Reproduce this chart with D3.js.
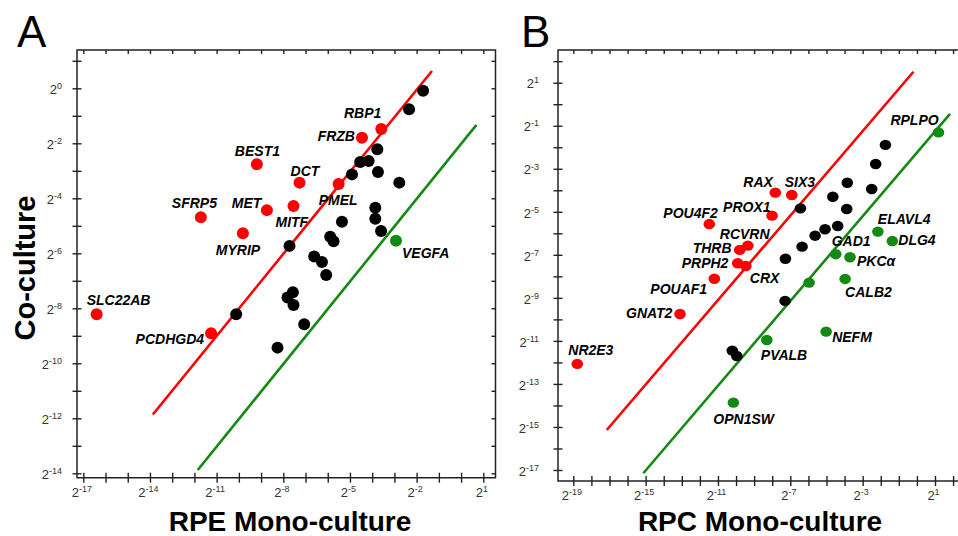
<!DOCTYPE html>
<html>
<head>
<meta charset="utf-8">
<script src="https://cdn.jsdelivr.net/npm/d3@7"></script>
<style>
  body { margin: 0; background: #fff; }
  svg { display: block; font-family: Arial, "Liberation Sans", sans-serif; }
  .tick text { fill: #333; font-size: 13px; }
  .gene { font-size: 14px; font-weight: bold; font-style: italic; fill: #000; }
</style>
</head>
<body>
<svg id="chart" width="958" height="536"></svg>
<script>
// values are log2 expression: [gene, mono-culture, co-culture]
const rpeUp = [
  ['RBP1', -3.59, -1.48], ['FRZB', -4.46, -1.80], ['BEST1', -9.19, -2.76],
  ['DCT', -7.27, -3.43], ['PMEL', -5.51, -3.48], ['SFRP5', -11.71, -4.69],
  ['MET', -8.74, -4.43], ['MITF', -7.54, -4.28], ['MYRIP', -9.82, -5.27],
  ['SLC22AB', -16.40, -8.22], ['PCDHGD4', -11.25, -8.91]
];
const rpeDown = [['VEGFA', -2.93, -5.54]];
const rpeOther = [
  [-1.71, -0.09], [-2.34, -0.76], [-3.77, -2.22], [-4.54, -2.68], [-4.16, -2.64],
  [-4.91, -3.13], [-3.74, -3.04], [-2.78, -3.43], [-3.86, -4.34], [-3.86, -4.74],
  [-3.60, -5.19], [-5.36, -4.85], [-5.89, -5.40], [-5.74, -5.56], [-7.72, -5.73],
  [-6.61, -6.12], [-6.26, -6.32], [-6.07, -6.79], [-7.57, -7.42], [-7.81, -7.61],
  [-7.54, -7.88], [-10.12, -8.22], [-7.06, -8.58], [-8.26, -9.43]
];
const rpeUpLine = [[-13.87, -11.86], [-1.31, 0.63]];
const rpeDownLine = [[-11.85, -13.88], [0.69, -1.33]];

const rpcUp = [
  ['RAX', -7.83, -4.11], ['SIX3', -6.92, -4.22], ['PROX1', -8.01, -5.18],
  ['POU4F2', -11.48, -5.57], ['RCVRN', -9.35, -6.57], ['THRB', -9.80, -6.77],
  ['PRPH2', -9.91, -7.39], ['CRX', -9.46, -7.52], ['POUAF1', -11.20, -8.11],
  ['GNAT2', -13.10, -9.75], ['NR2E3', -18.78, -12.07]
];
const rpcDown = [
  ['RPLPO', 1.19, -1.31], ['ELAVL4', -2.16, -5.92], ['DLG4', -1.36, -6.36],
  ['GAD1', -4.49, -6.97], ['PKCα', -3.70, -7.11], ['CALB2', -3.97, -8.12],
  ['', -5.96, -8.29], ['NEFM', -5.02, -10.57], ['PVALB', -8.30, -10.96],
  ['OPN1SW', -10.15, -13.87]
];
const rpcOther = [
  [-1.74, -1.89], [-2.28, -2.78], [-3.85, -3.65], [-2.50, -3.94], [-4.65, -4.30],
  [-6.44, -4.84], [-3.88, -4.87], [-4.38, -5.66], [-5.08, -5.81], [-5.63, -6.11],
  [-6.35, -6.62], [-7.27, -7.18], [-7.29, -9.14], [-10.21, -11.45], [-9.96, -11.70]
];
const rpcUpLine = [[-17.15, -15.14], [-0.19, 1.51]];
const rpcDownLine = [[-15.13, -17.15], [1.83, -0.45]];

// labelled exponents on each axis
const rpeXLabels = [-17, -14, -11, -8, -5, -2, 1];
const rpeYLabels = [0, -2, -4, -6, -8, -10, -12, -14];
const rpcXLabels = [-19, -15, -11, -7, -3, 1];
const rpcYLabels = [1, -1, -3, -5, -7, -9, -11, -13, -15, -17];

// label placement: [anchor, dx, dy] from the dot centre
const labelPos = {
  RBP1: ['end', 0, -11], FRZB: ['end', -7, 3], BEST1: ['start', -22, -8],
  DCT: ['start', -9, -7], PMEL: ['start', -20, 21], SFRP5: ['start', -29, -9],
  MET: ['start', -35, -2], MITF: ['start', -18, 21], MYRIP: ['start', -27, 22],
  VEGFA: ['start', 6, 17], SLC22AB: ['start', -10, -9], PCDHGD4: ['end', -7, 11],
  RAX: ['start', -32, -6], SIX3: ['start', -7, -8], PROX1: ['start', -49, -4],
  POU4F2: ['start', -46, -6], RCVRN: ['start', -28, -7], THRB: ['start', -47, 3],
  PRPH2: ['start', -56, 5], CRX: ['start', 4, 17], POUAF1: ['start', -64, 15],
  GNAT2: ['start', -54, 4], NR2E3: ['start', -9, -9], RPLPO: ['start', -48, -7],
  ELAVL4: ['start', 0, -8], DLG4: ['start', 6, 4], GAD1: ['start', -4, -8],
  'PKCα': ['start', 7, 9], CALB2: ['start', 0, 18], NEFM: ['start', 6, 10],
  PVALB: ['start', -6, 20], OPN1SW: ['start', -20, 21]
};

const RED = '#ff0000';
const GREEN = '#138a13';

const svg = d3.select('#chart');
svg.append('rect').attr('width', 958).attr('height', 536).attr('fill', '#fff');

const supLabels = (g) => {
  g.selectAll('.tick text').each(function () {
    const t = d3.select(this);
    const s = t.text();
    t.text(null);
    if (!s) return;
    t.append('tspan').text('2');
    t.append('tspan').attr('dy', '-0.55em').attr('font-size', '9px').text(s);
  });
};

const drawPanel = (p) => {
  const x = d3.scaleLinear().domain(p.xDom).range(p.xRange);
  const y = d3.scaleLinear().domain(p.yDom).range(p.yRange);
  const f = p.frame; // [left, top, right, bottom]
  const g = svg.append('g');

  const xTicks = d3.range(Math.ceil(x.invert(f[0])), Math.floor(x.invert(f[2])) + 1);
  const yTicks = d3.range(Math.ceil(y.invert(f[3])), Math.floor(y.invert(f[1])) + 1);

  // top & right inner ticks
  g.append('g')
      .attr('transform', `translate(0,${f[1]})`)
      .call(d3.axisTop(x).tickValues(xTicks).tickSize(-4).tickFormat(() => ''))
      .call(a => a.select('.domain').remove());
  if (f[2] < 958) {
    g.append('g')
        .attr('transform', `translate(${f[2]},0)`)
        .call(d3.axisRight(y).tickValues(yTicks).tickSize(-4).tickFormat(() => ''))
        .call(a => a.select('.domain').remove());
  }

  g.append('g')
      .attr('transform', `translate(0,${f[3]})`)
      .call(d3.axisBottom(x).tickValues(xTicks).tickSize(5)
        .tickFormat(d => (p.xLabels.includes(d) ? `${d}` : '')))
      .call(a => a.select('.domain').remove())
      .call(a => a.selectAll('.tick line').attr('y1', -5))
      .call(a => a.selectAll('.tick text').attr('y', 19).attr('dy', 0).attr('dx', -2))
      .call(supLabels);

  g.append('g')
      .attr('transform', `translate(${f[0]},0)`)
      .call(d3.axisLeft(y).tickValues(yTicks).tickSize(4.5)
        .tickFormat(d => (p.yLabels.includes(d) ? `${d}` : '')))
      .call(a => a.select('.domain').remove())
      .call(a => a.selectAll('.tick line').attr('x1', 4.5))
      .call(a => a.selectAll('.tick text').attr('x', -p.yLabelGap).attr('dy', '0.4em'))
      .call(supLabels);

  g.selectAll('.tick line').attr('stroke', '#222').attr('stroke-width', 1.4);

  // frame
  g.append('path')
      .attr('d', `M${f[0]},${f[1]}H${f[2]}V${f[3]}H${f[0]}Z`)
      .attr('fill', 'none')
      .attr('stroke', '#222')
      .attr('stroke-width', 1.5);

  const line = d3.line().x(d => x(d[0])).y(d => y(d[1]));
  g.append('path').datum(p.upLine).attr('d', line)
      .attr('stroke', RED).attr('stroke-width', 2.6).attr('fill', 'none');
  g.append('path').datum(p.downLine).attr('d', line)
      .attr('stroke', GREEN).attr('stroke-width', 2.6).attr('fill', 'none');

  g.selectAll('.other')
      .data(p.other)
    .enter().append('ellipse')
      .attr('cx', d => x(d[0]))
      .attr('cy', d => y(d[1]))
      .attr('rx', p.r[0]).attr('ry', p.r[1])
      .attr('fill', '#000');

  const genes = p.up.map(d => [...d, RED]).concat(p.down.map(d => [...d, GREEN]));
  g.selectAll('.dot')
      .data(genes)
    .enter().append('ellipse')
      .attr('cx', d => x(d[1]))
      .attr('cy', d => y(d[2]))
      .attr('rx', p.r[0]).attr('ry', p.r[1])
      .attr('fill', d => d[3]);

  g.selectAll('.gene')
      .data(genes.filter(d => labelPos[d[0]]))
    .enter().append('text')
      .attr('class', 'gene')
      .attr('x', d => x(d[1]) + labelPos[d[0]][1])
      .attr('y', d => y(d[2]) + labelPos[d[0]][2])
      .attr('text-anchor', d => labelPos[d[0]][0])
      .text(d => d[0]);

  svg.append('text')
      .attr('x', p.letter[0]).attr('y', p.letter[1])
      .attr('font-size', 44).text(p.name);

  svg.append('text')
      .attr('x', p.xTitle[0]).attr('y', p.xTitle[1])
      .attr('text-anchor', 'middle')
      .attr('font-size', 28).attr('font-weight', 'bold')
      .text(p.xTitleText);
};

drawPanel({
  name: 'A',
  letter: [17, 47],
  xDom: [-17, 1], xRange: [83.3, 483.3],
  yDom: [-14, 0], yRange: [473.3, 88.3],
  frame: [77, 50, 495.5, 477.7],
  xLabels: rpeXLabels, yLabels: rpeYLabels, yLabelGap: 15,
  up: rpeUp, down: rpeDown, other: rpeOther,
  upLine: rpeUpLine, downLine: rpeDownLine,
  r: [6, 6],
  xTitle: [290, 531], xTitleText: 'RPE Mono-culture'
});

drawPanel({
  name: 'B',
  letter: [521, 47],
  xDom: [-19, 1], xRange: [573.3, 935],
  yDom: [-17, 1], yRange: [470, 82.7],
  frame: [558, 50, 960, 481],
  xLabels: rpcXLabels, yLabels: rpcYLabels, yLabelGap: 19,
  up: rpcUp, down: rpcDown, other: rpcOther,
  upLine: rpcUpLine, downLine: rpcDownLine,
  r: [5.8, 5.2],
  xTitle: [760, 531], xTitleText: 'RPC Mono-culture'
});

svg.append('text')
    .attr('transform', 'translate(35,268) rotate(-90)')
    .attr('text-anchor', 'middle')
    .attr('font-size', 29).attr('font-weight', 'bold')
    .text('Co-culture');
</script>
</body>
</html>
